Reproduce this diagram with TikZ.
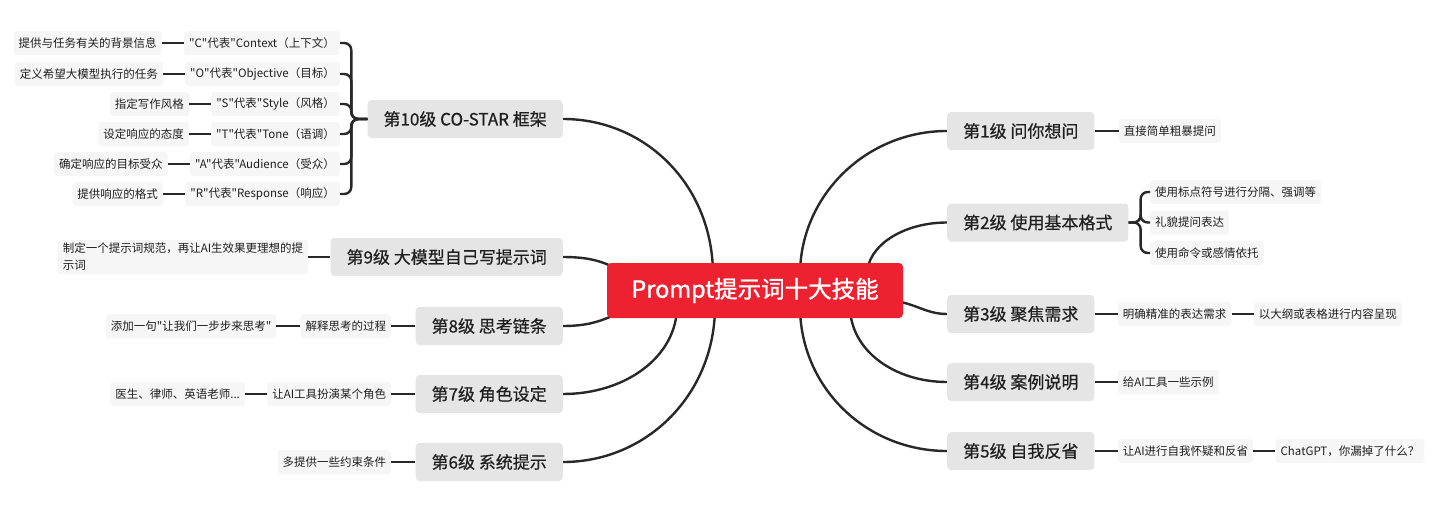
\documentclass[tikz,border=0pt]{standalone}
\usepackage{fontspec}
\newfontfamily\zhfont{Noto Sans CJK SC}
\newfontfamily\zhmid{Noto Sans CJK SC}[FakeBold=0.6]
\newfontfamily\zhhub{Noto Sans CJK SC}[FakeBold=1.2]
\usetikzlibrary{positioning, calc, backgrounds}
\definecolor{hubred}{RGB}{237,33,47}
\definecolor{topicgray}{RGB}{229,229,229}
\definecolor{leafgray}{RGB}{246,246,246}
\definecolor{inkline}{RGB}{40,40,40}
\tikzset{
  hub/.style={fill=hubred, text=white, rounded corners=4pt, minimum width=296pt, minimum height=55pt,
    font={\zhhub\fontsize{23.5}{28}\selectfont}},
  topic/.style={fill=topicgray, text=black!88, rounded corners=4pt, minimum height=38pt, inner xsep=16pt,
    font={\zhmid\fontsize{17}{20}\selectfont}},
  leaf/.style={fill=leafgray, text=black!88, rounded corners=3pt, minimum height=24pt, inner xsep=5pt,
    font={\zhfont\fontsize{11.5}{17}\selectfont}},
  link/.style={draw=inkline, line width=2.4pt},
}

\begin{document}
\begin{tikzpicture}[x=1pt, y=-1pt]
  \useasboundingbox (0,0) rectangle (1440,506);
  \node[hub] (hub) at (755,290.5) {Prompt提示词十大技能};

  % right side
  \node[topic, anchor=west] (m1) at (947,131) {第1级 问你想问};
  \node[topic, anchor=west] (m2) at (947,222.5) {第2级 使用基本格式};
  \node[topic, anchor=west] (m3) at (947,314) {第3级 聚焦需求};
  \node[topic, anchor=west] (m4) at (947,382) {第4级 案例说明};
  \node[topic, anchor=west] (m5) at (947,451) {第5级 自我反省};

  \node[leaf, right=24pt of m1] (s1) {直接简单粗暴提问};
  \draw[link] (m1) -- (s1);
  \foreach \n/\y/\txt in {a/192/{使用标点符号进行分隔、强调等}, b/222.5/{礼貌提问表达}, c/253/{使用命令或感情依托}} {
    \node[leaf, anchor=west] (f\n) at (1150,\y) {\txt};
    \draw[link, rounded corners=7pt] (m2.east) -- ++(12,0) |- (f\n.west);
  }
  \node[leaf, right=23pt of m3] (s3) {明确精准的表达需求};
  \node[leaf, right=22pt of s3] (s3b) {以大纲或表格进行内容呈现};
  \draw[link] (m3) -- (s3);
  \draw[link] (s3) -- (s3b);
  \node[leaf, right=23pt of m4] (s4) {给AI工具一些示例};
  \draw[link] (m4) -- (s4);
  \node[leaf, right=23pt of m5] (s5) {让AI进行自我怀疑和反省};
  \node[leaf, right=22pt of s5] (s5b) {ChatGPT，你漏掉了什么？};
  \draw[link] (m5) -- (s5);
  \draw[link] (s5) -- (s5b);

  % left side
  \node[topic, anchor=east] (m10) at (563,119) {第10级 CO-STAR 框架};
  \node[topic, anchor=east] (m9) at (563,257) {第9级 大模型自己写提示词};
  \node[topic, anchor=east] (m8) at (563,326) {第8级 思考链条};
  \node[topic, anchor=east] (m7) at (563,394) {第7级 角色设定};
  \node[topic, anchor=east] (m6) at (563,462) {第6级 系统提示};

  \foreach \n/\y/\lbl/\txt in {
    c/43/{"C"代表"Context（上下文）}/{提供与任务有关的背景信息},
    o/74/{"O"代表"Objective（目标）}/{定义希望大模型执行的任务},
    s/104/{"S"代表"Style（风格）}/{指定写作风格},
    t/134/{"T"代表"Tone（语调）}/{设定响应的态度},
    a/164/{"A"代表"Audience（受众）}/{确定响应的目标受众},
    r/194/{"R"代表"Response（响应）}/{提供响应的格式}} {
    \node[leaf, anchor=east] (k\n) at (340,\y) {\lbl};
    \node[leaf, left=22pt of k\n] (d\n) {\txt};
    \draw[link] (d\n) -- (k\n);
    \draw[link, rounded corners=7pt] (m10.west) -- ++(-16,0) |- (k\n.east);
  }

  \node[leaf, left=22pt of m9, align=left] (l9) {制定一个提示词规范，再让AI生效果更理想的提\\示词};
  \draw[link] (l9) -- (m9);
  \node[leaf, left=24pt of m8] (s8) {解释思考的过程};
  \node[leaf, left=24pt of s8] (l8) {添加一句"让我们一步步来思考"};
  \draw[link] (l8) -- (s8);
  \draw[link] (s8) -- (m8);
  \node[leaf, left=24pt of m7] (s7) {让AI工具扮演某个角色};
  \node[leaf, left=22pt of s7] (l7) {医生、律师、英语老师...};
  \draw[link] (l7) -- (s7);
  \draw[link] (s7) -- (m7);
  \node[leaf, left=24pt of m6] (s6) {多提供一些约束条件};
  \draw[link] (s6) -- (m6);

  % branches from the hub
  \begin{scope}[on background layer]
    \draw[link] ($(hub.north)+(45,12)$) .. controls ($(hub.north)+(45,-67)$) and ($(m1.west)+(-81,0)$) .. (m1.west);
    \draw[link] ($(hub.north)+(112,12)$) .. controls ($(hub.north)+(112,-17)$) and ($(m2.west)+(-44,0)$) .. (m2.west);
    \draw[link] ($(hub.east)+(-13,10)$) .. controls ($(hub.east)+(12,12)$) and ($(m3.west)+(-22,0)$) .. (m3.west);
    \draw[link] ($(hub.south)+(95,-12)$) .. controls ($(hub.south)+(95,32)$) and ($(m4.west)+(-53,0)$) .. (m4.west);
    \draw[link] ($(hub.south)+(45,-12)$) .. controls ($(hub.south)+(45,69)$) and ($(m5.west)+(-81,0)$) .. (m5.west);
    \draw[link] ($(hub.north)+(-42,12)$) .. controls ($(hub.north)+(-42,-77)$) and ($(m10.east)+(83,0)$) .. (m10.east);
    \draw[link] ($(hub.west)+(18,-18)$) .. controls ($(hub.west)+(-2,-28)$) and ($(m9.east)+(30,0)$) .. (m9.east);
    \draw[link] ($(hub.west)+(18,20)$) .. controls ($(hub.west)+(-2,28.5)$) and ($(m8.east)+(30,0)$) .. (m8.east);
    \draw[link] ($(hub.south)+(-78,-12)$) .. controls ($(hub.south)+(-78,38)$) and ($(m7.east)+(63,0)$) .. (m7.east);
    \draw[link] ($(hub.south)+(-40,-12)$) .. controls ($(hub.south)+(-40,76)$) and ($(m6.east)+(84,0)$) .. (m6.east);
  \end{scope}
\end{tikzpicture}
\end{document}
